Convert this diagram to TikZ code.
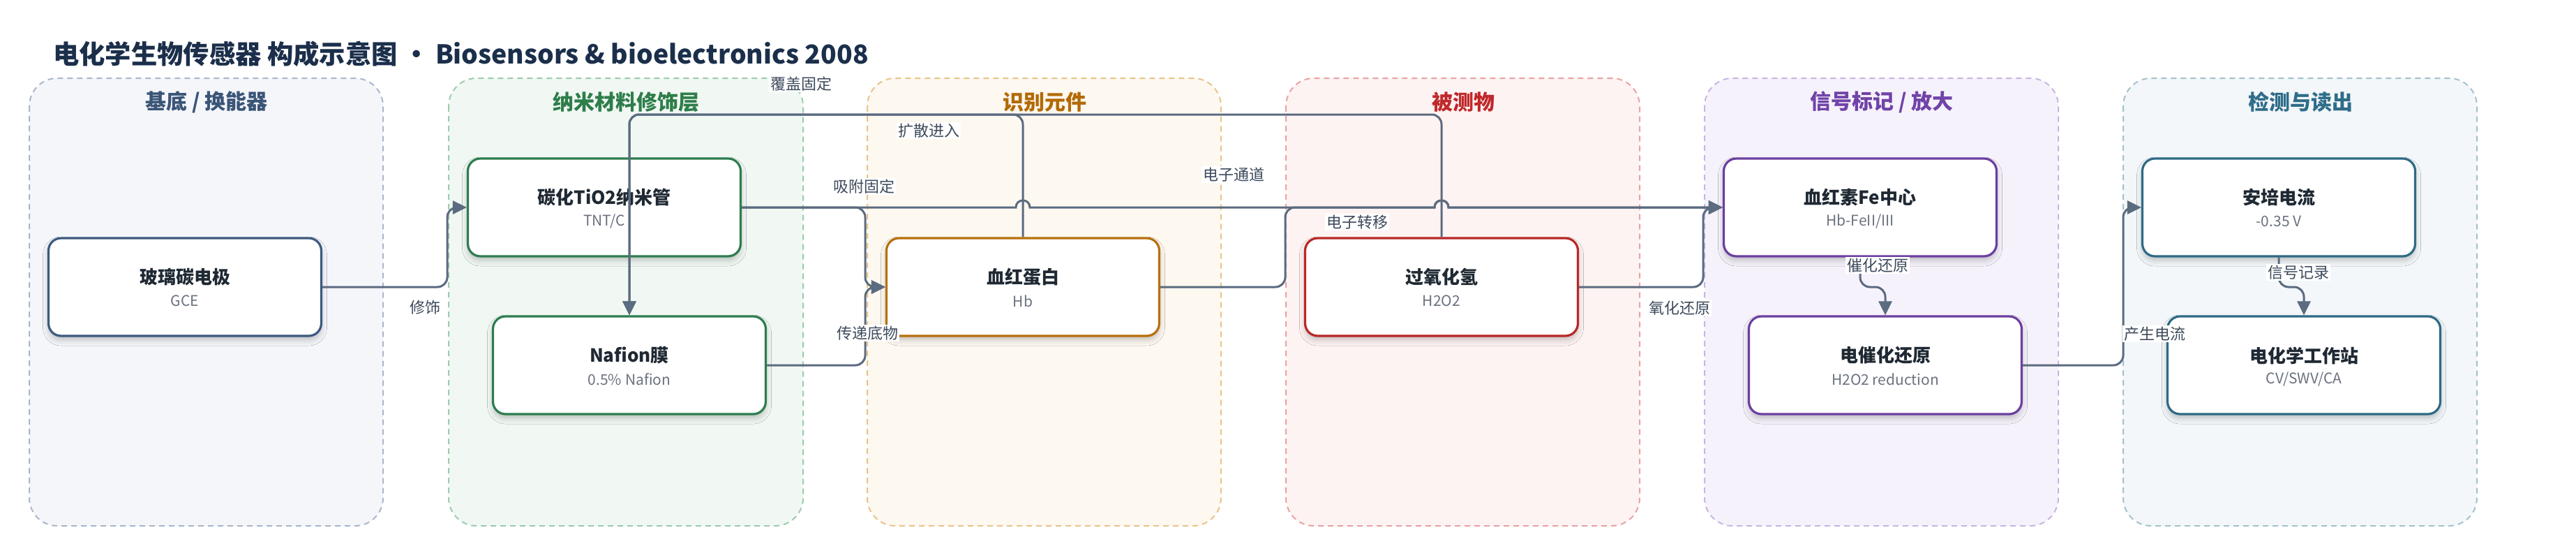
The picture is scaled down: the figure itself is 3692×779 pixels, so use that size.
\documentclass[tikz,border=0pt]{standalone}
\usepackage{fontspec}
\setmainfont{Noto Sans CJK SC}
\usetikzlibrary{arrows.meta,shadows.blur,calc}
\definecolor{ink}{HTML}{1F2933}
\definecolor{titlec}{HTML}{1B2F4B}
\definecolor{subc}{HTML}{6B7280}
\definecolor{lblc}{HTML}{3D4A5C}
\definecolor{edgec}{HTML}{5B6B80}
% lanes
\definecolor{laneAf}{HTML}{F4F6FA}\definecolor{laneAb}{HTML}{A9B7CC}\definecolor{laneAt}{HTML}{3B5577}\definecolor{nodeA}{HTML}{3D5A80}
\definecolor{laneBf}{HTML}{F1F8F3}\definecolor{laneBb}{HTML}{9DCBAE}\definecolor{laneBt}{HTML}{2E7D4A}\definecolor{nodeB}{HTML}{2E7D4F}
\definecolor{laneCf}{HTML}{FDF8F0}\definecolor{laneCb}{HTML}{E8C48A}\definecolor{laneCt}{HTML}{B36A05}\definecolor{nodeC}{HTML}{B7700D}
\definecolor{laneDf}{HTML}{FDF3F2}\definecolor{laneDb}{HTML}{E9A3A3}\definecolor{laneDt}{HTML}{C0282B}\definecolor{nodeD}{HTML}{B82828}
\definecolor{laneEf}{HTML}{F6F2FB}\definecolor{laneEb}{HTML}{C9B5E3}\definecolor{laneEt}{HTML}{7043A8}\definecolor{nodeE}{HTML}{6B3FA0}
\definecolor{laneFf}{HTML}{F3F7F9}\definecolor{laneFb}{HTML}{A3C2CE}\definecolor{laneFt}{HTML}{2F6D8A}\definecolor{nodeF}{HTML}{2E6A85}
\tikzset{
  lanebox/.style 2 args={draw=#1, fill=#2, line width=2pt, dash pattern=on 8pt off 6pt, rounded corners=40pt},
  lanetitle/.style={text=#1, font=\bfseries\fontsize{30}{35}\selectfont, inner sep=0pt},
  nbox/.style={draw=#1, fill=white, line width=3.2pt, rounded corners=18pt,
     minimum width=391pt, minimum height=140pt, inner sep=0pt,
     blur shadow={shadow xshift=0pt, shadow yshift=-6pt, shadow blur radius=8pt, shadow opacity=22}},
  ttl/.style={text=ink, font=\bfseries\fontsize{26}{30}\selectfont, inner sep=0pt},
  stt/.style={text=subc, font=\fontsize{21}{25}\selectfont, inner sep=0pt},
  conn/.style={draw=edgec, line width=3pt, rounded corners=14pt},
  arr/.style={-{Triangle[length=20pt,width=19pt]}},
  lbl/.style={fill=white, inner sep=2pt, text=lblc, font=\fontsize{22}{26}\selectfont},
}
\newcommand\mkbox[6]{%
  \node[nbox=#4] (#1) at (#2,#3) {};
  \node[ttl] (#1-t) at ($(#1.center)+(0,-14)$) {#5};
  \node[stt] (#1-s) at ($(#1.center)+(0,20)$) {#6};
}
\begin{document}
\begin{tikzpicture}[x=1pt,y=-1pt]
\useasboundingbox (0,0) rectangle (3692,779);
\fill[white] (0,0) rectangle (3692,779);

% title
\node[anchor=west, text=titlec, font=\bfseries\fontsize{37.3}{43}\selectfont, inner sep=0pt] (title) at (76,77)
  {电化学生物传感器 构成示意图 · Biosensors \& bioelectronics 2008};

% lanes
\draw[lanebox={laneAb}{laneAf}] (42,112) rectangle (549,753);
\draw[lanebox={laneBb}{laneBf}] (643,112) rectangle (1151,753);
\draw[lanebox={laneCb}{laneCf}] (1243,112) rectangle (1750,753);
\draw[lanebox={laneDb}{laneDf}] (1843,112) rectangle (2350,753);
\draw[lanebox={laneEb}{laneEf}] (2443,112) rectangle (2950,753);
\draw[lanebox={laneFb}{laneFf}] (3043,112) rectangle (3550,753);
\node[lanetitle=laneAt] (lt1) at (296,146) {基底 / 换能器};
\node[lanetitle=laneBt] (lt2) at (897,146) {纳米材料修饰层};
\node[lanetitle=laneCt] (lt3) at (1497,146) {识别元件};
\node[lanetitle=laneDt] (lt4) at (2097,146) {被测物};
\node[lanetitle=laneEt] (lt5) at (2697,146) {信号标记 / 放大};
\node[lanetitle=laneFt] (lt6) at (3297,146) {检测与读出};

% nodes
\mkbox{gce}{265}{411}{nodeA}{玻璃碳电极}{GCE}
\mkbox{tnt}{866}{297}{nodeB}{碳化TiO2纳米管}{TNT/C}
\mkbox{naf}{902}{523}{nodeB}{Nafion膜}{0.5\% Nafion}
\mkbox{hb}{1466}{411}{nodeC}{血红蛋白}{Hb}
\mkbox{hoo}{2066}{411}{nodeD}{过氧化氢}{H2O2}
\mkbox{fe}{2666}{297}{nodeE}{血红素Fe中心}{Hb-FeII/III}
\mkbox{ecr}{2702}{523}{nodeE}{电催化还原}{H2O2 reduction}
\mkbox{amp}{3266}{297}{nodeF}{安培电流}{-0.35 V}
\mkbox{ws}{3302}{523}{nodeF}{电化学工作站}{CV/SWV/CA}

% connectors
\draw[conn,arr] (gce.east) -- (641,411) -- (641,297) -- (tnt.west);
\draw[conn,arr] (hb.north) -- (1466,164) -- (902,164) -- (naf.north);
\draw[conn,arr] (hoo.north) -- (2066,164) -- (902,164) -- (naf.north);
\draw[conn,arr] (tnt.east) -- (1240,297) -- (1240,411) -- (hb.west);
\draw[conn,arr] (naf.east) -- (1240,523) -- (1240,411) -- (hb.west);
\draw[conn,arr,sharp corners] (tnt.east) -- (1456,297) .. controls (1456,283.7) and (1476,283.7) .. (1476,297)
   -- (2056,297) .. controls (2056,283.7) and (2076,283.7) .. (2076,297) -- (fe.west);
\draw[conn,arr] (hb.east) -- (1842,411) -- (1842,297) [sharp corners] -- (2056,297) .. controls (2056,283.7) and (2076,283.7) .. (2076,297) -- (fe.west);
\draw[conn,arr] (hoo.east) -- (2441,411) -- (2441,297) -- (fe.west);
\draw[conn,arr] (fe.south) -- (2666,411) -- (2702,411) -- (ecr.north);
\draw[conn,arr] (ecr.east) -- (3043,523) -- (3043,297) -- (amp.west);
\draw[conn,arr] (amp.south) -- (3266,411) -- (3302,411) -- (ws.north);

% connector labels
\node[lbl] (l1) at (609,440) {修饰};
\node[lbl] (l2) at (1148,120) {覆盖固定};
\node[lbl] (l3) at (1331,187) {扩散进入};
\node[lbl] (l4) at (1238,267) {吸附固定};
\node[lbl] (l5) at (1243,477) {传递底物};
\node[lbl] (l6) at (1768,250) {电子通道};
\node[lbl] (l7) at (1945,318) {电子转移};
\node[lbl] (l8) at (2407,441) {氧化还原};
\node[lbl] (l9) at (2691,380) {催化还原};
\node[lbl] (l10) at (3088,478) {产生电流};
\node[lbl] (l11) at (3294,390) {信号记录};
\end{tikzpicture}
\end{document}
